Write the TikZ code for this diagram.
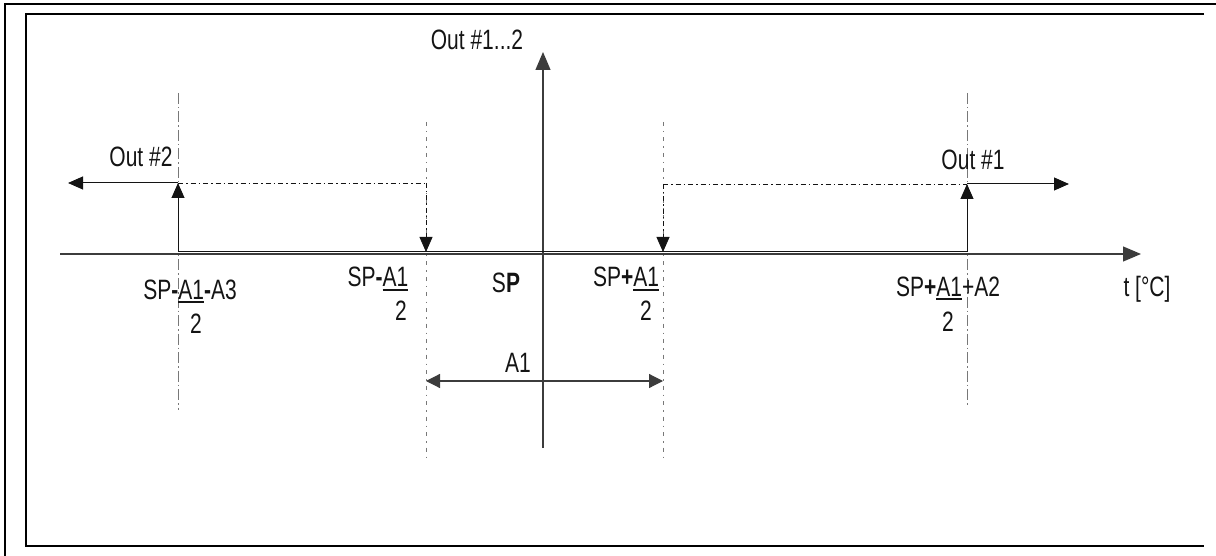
\documentclass[tikz,border=0pt]{standalone}
\usepackage{fontspec}
\setmainfont{Liberation Sans}[FakeStretch=0.75]
\usetikzlibrary{arrows.meta,calc,positioning}
\definecolor{dgAxis}{RGB}{60,60,60}
\definecolor{dgGuide}{RGB}{120,120,120}
\definecolor{dgInk}{RGB}{20,20,20}
\newcommand{\lblfont}{\fontsize{28}{32}\selectfont}
\newcommand{\ulbar}[1]{\leavevmode\setbox0\hbox{#1}\rlap{\rule[-4pt]{\wd0}{2.2pt}}\box0}

\begin{document}
\begin{tikzpicture}[x=1pt,y=-1pt,
  lbl/.style={font=\lblfont,text=dgInk,inner sep=0pt,anchor=base},
  axisline/.style={draw=dgAxis,line width=1.2pt},
  guide/.style={draw=dgGuide,line width=0.8pt,dash pattern=on 11pt off 3pt on 1.5pt off 3pt},
  guidefine/.style={draw=dgGuide,line width=0.8pt,dash pattern=on 4pt off 5pt on 1.5pt off 5pt},
  sigline/.style={draw=dgInk,line width=1pt},
  sigdash/.style={draw=dgInk,line width=0.8pt,dash pattern=on 5pt off 3pt on 1.5pt off 3pt},
  sigarrow/.style={-{Triangle[length=15pt,width=13pt]}},
  axisarrow/.style={-{Triangle[length=18pt,width=15pt]}}]
  \useasboundingbox (0,0) rectangle (1216,556);
  % frames
  \draw[line width=2.2pt] (5,556) |- (1216,4);
  \draw[line width=1.2pt] (1204,14) -| (26,546) -- (1204,546);
  % axes
  \coordinate (tAxisL) at (60,254);
  \coordinate (tAxisR) at (1141,254);
  \coordinate (oAxisB) at (543,448);
  \coordinate (oAxisT) at (543,52);
  \draw[axisline,axisarrow] (tAxisL) -- (tAxisR);
  \draw[axisline,axisarrow] (oAxisB) -- (oAxisT);
  % guides
  \coordinate (gA3t) at (178,93);
  \coordinate (gA3b) at (178,410);
  \coordinate (gSPmt) at (426,122);
  \coordinate (gSPmb) at (426,460);
  \coordinate (gSPpt) at (663,122);
  \coordinate (gSPpb) at (663,460);
  \coordinate (gA2t) at (967,93);
  \coordinate (gA2b) at (967,406);
  \draw[guide] (gA3t) -- (gA3b);
  \draw[guide] (gA2t) -- (gA2b);
  \draw[guidefine] (gSPmt) -- (gSPmb);
  \draw[guidefine] (gSPpt) -- (gSPpb);
  % outputs
  \coordinate (lowL) at (178,252);
  \coordinate (lowR) at (967,252);
  \coordinate (outTwoHi) at (178,183);
  \coordinate (outTwoEnd) at (68,183);
  \coordinate (outTwoOff) at (426,183);
  \coordinate (outTwoOffLow) at (426,252);
  \coordinate (outOneOff) at (663,184);
  \coordinate (outOneOffLow) at (663,252);
  \coordinate (outOneHi) at (967,184);
  \coordinate (outOneEnd) at (1069,184);
  \draw[sigline] (lowL) -- (lowR);
  \draw[sigline,sigarrow] (lowL) -- (outTwoHi);
  \draw[sigline,sigarrow] (outTwoHi) -- (outTwoEnd);
  \draw[sigdash] (outTwoHi) -- (outTwoOff);
  \draw[sigdash,sigarrow] (outTwoOff) -- (outTwoOffLow);
  \draw[sigdash] (outOneOff) -- (outOneHi);
  \draw[sigdash,sigarrow] (outOneOff) -- (outOneOffLow);
  \draw[sigline,sigarrow] (lowR) -- (outOneHi);
  \draw[sigline,sigarrow] (outOneHi) -- (outOneEnd);
  % band
  \coordinate (dimL) at (426,381);
  \coordinate (dimR) at (663,381);
  \draw[axisline,{Triangle[length=14pt,width=14pt]}-{Triangle[length=14pt,width=14pt]}] (dimL) -- (dimR);
  % labels
  \node[lbl] (yLabel) at (477,50) {Out \#1...2};
  \node[lbl] (outTwo) at (141,167) {Out \#2};
  \node[lbl] (outOne) at (973,170) {Out \#1};
  \node[lbl] (lblA3) at (190,299) {SP\textbf{-}\ulbar{A1}\textbf{-}A3};
  \node[lbl] (lblA3d) at (196,333) {2};
  \node[lbl] (lblSPm) at (378,287) {SP\textbf{-}\ulbar{A1}};
  \node[lbl] (lblSPmd) at (401,320) {2};
  \node[lbl] (lblSP) at (506,293) {S\textbf{P}};
  \node[lbl] (lblSPp) at (626,287) {SP\textbf{+}\ulbar{A1}};
  \node[lbl] (lblSPpd) at (646,320) {2};
  \node[lbl] (lblA2) at (948,296) {SP\textbf{+}\ulbar{A1}+A2};
  \node[lbl] (lblA2d) at (948,331) {2};
  \node[lbl] (tLabel) at (1147,296) {t [°C]};
  \node[lbl] (bandLabel) at (518,372) {A1};
\end{tikzpicture}
\end{document}
